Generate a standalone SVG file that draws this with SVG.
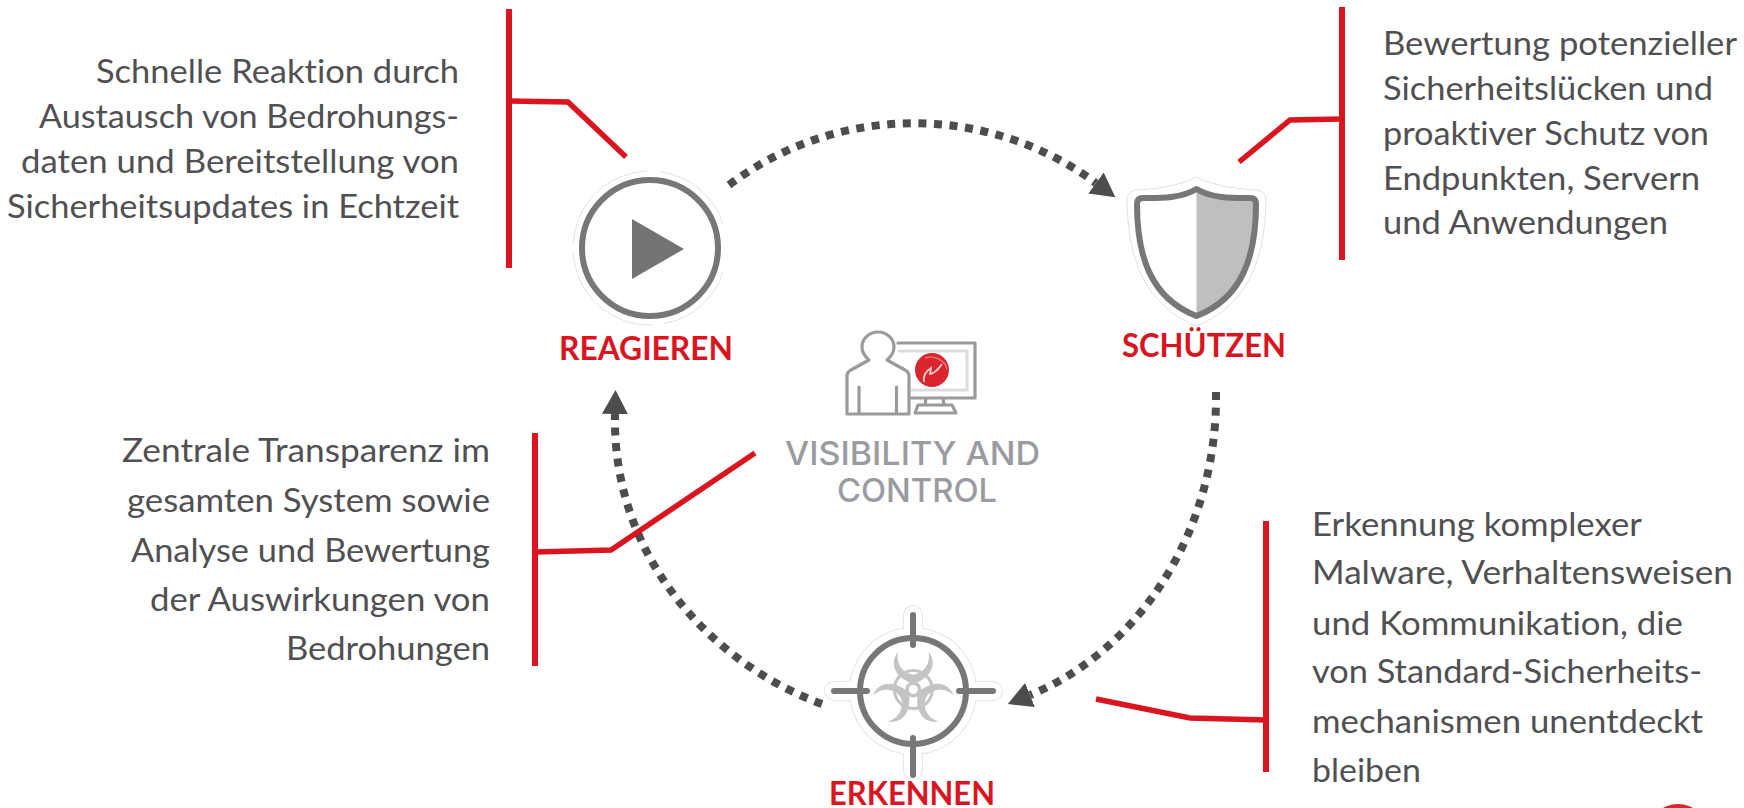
<svg xmlns="http://www.w3.org/2000/svg" width="1744" height="808" viewBox="0 0 1744 808">
<style>
text{font-family:"Lato","Liberation Sans",sans-serif;font-variant-ligatures:none}
.body{font-size:32px;fill:#505052}
.head{font-size:32px;font-weight:700;fill:#d9161f}
.vc{font-family:"Inter","Liberation Sans",sans-serif;font-size:33px;font-weight:500;fill:#999ba0}
.bar{fill:none;stroke:#d9161f;stroke-width:6}
.lead{fill:none;stroke:#d9161f;stroke-width:5.5;stroke-linejoin:miter}
.flow{fill:none;stroke:#4d4d4f;stroke-width:8;stroke-dasharray:8 7.6;marker-end:url(#tip)}
.halo{fill:none;stroke:#e2e2e2;stroke-width:1}
.ic{fill:none;stroke:#777;stroke-width:6;stroke-linejoin:round}
.pc{fill:none;stroke:#9a9a9a;stroke-width:3.2;stroke-linejoin:round;stroke-linecap:round}
.tick{stroke:#777;stroke-width:6;stroke-linecap:round}
</style>
<defs>
<marker id="tip" markerUnits="userSpaceOnUse" markerWidth="24" markerHeight="26" refX="0" refY="13" orient="auto" viewBox="0 0 24 26"><path d="M0 0L24 13L0 26Z" fill="#4d4d4f"/></marker>
<path id="lobe" d="M-15 -38C-24 -27 -19 -14 -4 -7L4 -7C19 -14 24 -27 15 -38C18 -27 11 -16 0 -15C-11 -16 -18 -27 -15 -38Z" fill="#c4c4c4"/>
</defs>

<g id="connectors">
<path class="flow" d="M729 185A307.500 307.500 0 0 1 1096 183"/>
<path class="flow" d="M1216 392C1218 530 1140 650 1030 695"/>
<path class="flow" d="M822 704C715 665 612 560 615 414"/>
</g>

<g id="callout-reagieren">
<path class="bar" d="M509 9V268"/>
<path class="lead" d="M509 101L568 102L626 157"/>
<text class="body" x="459" y="83" text-anchor="end" textLength="363" lengthAdjust="spacingAndGlyphs">Schnelle Reaktion durch</text>
<text class="body" x="459" y="128" text-anchor="end" textLength="420" lengthAdjust="spacingAndGlyphs">Austausch von Bedrohungs-</text>
<text class="body" x="459" y="173" text-anchor="end" textLength="438" lengthAdjust="spacingAndGlyphs">daten und Bereitstellung von</text>
<text class="body" x="459" y="218" text-anchor="end" textLength="452" lengthAdjust="spacingAndGlyphs">Sicherheitsupdates in Echtzeit</text>
</g>

<g id="callout-schuetzen">
<path class="bar" d="M1342 7V260"/>
<path class="lead" d="M1342 119L1290 120L1239 162"/>
<text class="body" x="1383" y="55" textLength="354" lengthAdjust="spacingAndGlyphs">Bewertung potenzieller</text>
<text class="body" x="1383" y="100" textLength="330" lengthAdjust="spacingAndGlyphs">Sicherheitslücken und</text>
<text class="body" x="1383" y="145" textLength="326" lengthAdjust="spacingAndGlyphs">proaktiver Schutz von</text>
<text class="body" x="1383" y="190" textLength="317" lengthAdjust="spacingAndGlyphs">Endpunkten, Servern</text>
<text class="body" x="1383" y="234" textLength="285" lengthAdjust="spacingAndGlyphs">und Anwendungen</text>
</g>

<g id="callout-visibility">
<path class="bar" d="M535 433V666"/>
<path class="lead" d="M535 552L611 550L755 453"/>
<text class="body" x="490" y="462" text-anchor="end" textLength="368" lengthAdjust="spacingAndGlyphs">Zentrale Transparenz im</text>
<text class="body" x="490" y="512" text-anchor="end" textLength="363" lengthAdjust="spacingAndGlyphs">gesamten System sowie</text>
<text class="body" x="490" y="562" text-anchor="end" textLength="359" lengthAdjust="spacingAndGlyphs">Analyse und Bewertung</text>
<text class="body" x="490" y="611" text-anchor="end" textLength="340" lengthAdjust="spacingAndGlyphs">der Auswirkungen von</text>
<text class="body" x="490" y="660" text-anchor="end" textLength="204" lengthAdjust="spacingAndGlyphs">Bedrohungen</text>
</g>

<g id="callout-erkennen">
<path class="bar" d="M1266 521V772"/>
<path class="lead" d="M1266 720L1190 718L1096 699"/>
<text class="body" x="1312" y="536" textLength="330" lengthAdjust="spacingAndGlyphs">Erkennung komplexer</text>
<text class="body" x="1312" y="584" textLength="421" lengthAdjust="spacingAndGlyphs">Malware, Verhaltensweisen</text>
<text class="body" x="1312" y="635" textLength="371" lengthAdjust="spacingAndGlyphs">und Kommunikation, die</text>
<text class="body" x="1312" y="683" textLength="390" lengthAdjust="spacingAndGlyphs">von Standard-Sicherheits-</text>
<text class="body" x="1312" y="733" textLength="391" lengthAdjust="spacingAndGlyphs">mechanismen unentdeckt</text>
<text class="body" x="1312" y="782" textLength="109" lengthAdjust="spacingAndGlyphs">bleiben</text>
</g>

<g id="node-reagieren">
<path class="halo" d="M659.400 171.600A77 77 0 0 1 723.200 224.200M723.200 271.800A77 77 0 0 1 663.400 323.800M652.700 325A77 77 0 0 1 573 250.700M573 245.300A77 77 0 0 1 647.300 171"/>
<circle class="ic" cx="650" cy="248" r="68"/>
<path d="M632 219L684 249L632 279Z" fill="#737373"/>
<text class="head" x="559" y="360" textLength="174" lengthAdjust="spacingAndGlyphs">REAGIEREN</text>
</g>

<g id="node-schuetzen">
<path class="halo" fill="#fff" d="M1196.500 177C1180 186 1150 190 1135 190Q1127 192 1127 200C1128 260 1145 305 1196.500 326C1248 305 1265 260 1266 200Q1266 192 1258 190C1243 190 1213 186 1196.500 177Z"/>
<path d="M1196.500 189C1213 199 1235 198 1250 198Q1256 198 1256 204C1256 255 1243 298 1196.500 316Z" fill="#bfbfbf"/>
<path class="ic" d="M1196.500 189C1180 199 1158 198 1143 198Q1137 198 1137 204C1137 255 1150 298 1196.500 316C1243 298 1256 255 1256 204Q1256 198 1250 198C1235 198 1213 199 1196.500 189Z"/>
<text class="head" x="1122" y="357" textLength="164" lengthAdjust="spacingAndGlyphs">SCHÜTZEN</text>
</g>

<g id="node-visibility">
<path class="pc" d="M847 414V376Q847 372 851 370L869 360Q862 354 862 347A16 15 0 0 1 894 347Q894 354 887 360L905 370Q909 372 909 376V414ZM859 387V414M896.500 387V414"/>
<path class="pc" d="M898 343H975V398H911M926 398L925 405M943 398L944 405M915 413L918 405H952L956 413Z"/>
<path d="M898 351H967V390H911" fill="none" stroke="#dcdcdc" stroke-width="3"/>
<circle cx="932" cy="370" r="17" fill="#d9262e"/>
<path d="M924 382C923 376 926 371 931 368L930 374C936 373 939 368 942 364" fill="none" stroke="#f6c9cb" stroke-width="1.800"/>
<path d="M925 358C934 355 945 360 947 369" fill="none" stroke="#ea7075" stroke-width="1.500"/>
<text class="vc" x="785" y="465" textLength="255" lengthAdjust="spacingAndGlyphs">VISIBILITY AND</text>
<text class="vc" x="837" y="502" textLength="160" lengthAdjust="spacingAndGlyphs">CONTROL</text>
</g>

<g id="node-erkennen">
<g stroke="#e6e6e6" stroke-width="20" stroke-linecap="round" fill="#e6e6e6"><circle cx="913" cy="691" r="64" stroke="none"/><path d="M913 615V770M834 691H993"/></g>
<g stroke="#fff" stroke-width="18" stroke-linecap="round" fill="#fff"><circle cx="913" cy="691" r="63" stroke="none"/><path d="M913 615V770M834 691H993"/></g>
<circle class="ic" cx="913" cy="691" r="53" stroke-width="7"/>
<path class="tick" d="M913 615V645M913 738V775M834 691H867M959 691H993"/>
<g transform="translate(913.300 689.500)">
<circle r="19" fill="none" stroke="#c4c4c4" stroke-width="3"/>
<use href="#lobe"/>
<use href="#lobe" transform="rotate(120)"/>
<use href="#lobe" transform="rotate(240)"/>
<circle r="8" fill="#c4c4c4"/>
<circle r="4.500" fill="#fff"/>
</g>
<text class="head" x="829" y="805" textLength="166" lengthAdjust="spacingAndGlyphs">ERKENNEN</text>
</g>

<circle id="corner-logo" cx="1678" cy="834" r="30" fill="#d9262e"/>
</svg>
